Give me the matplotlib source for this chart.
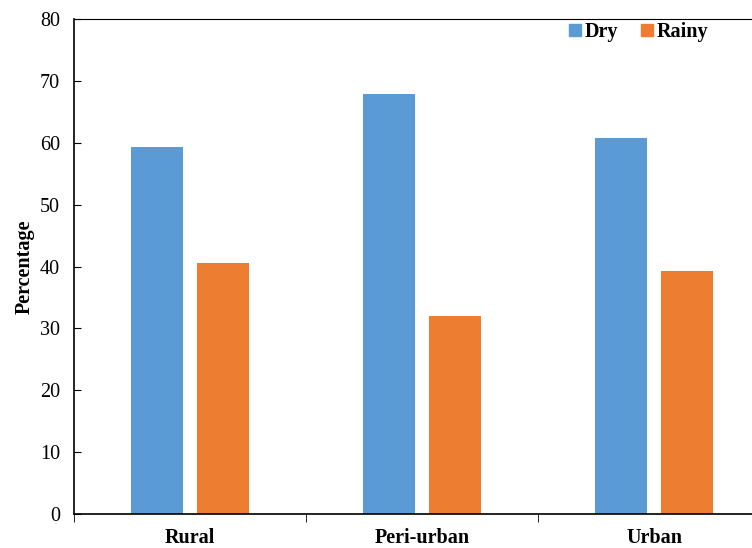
import numpy as np
import matplotlib.pyplot as plt
from matplotlib.patches import Patch

# Данные
categories = ['Rural', 'Peri-urban', 'Urban']
dry = [59.3, 67.9, 60.7]
rainy = [40.6, 32.0, 39.2]

plt.rcParams['font.family'] = ['Liberation Serif', 'DejaVu Serif']

fig = plt.figure(figsize=(7.52, 5.48), dpi=100)
ax = fig.add_axes([74 / 752, 34 / 548, 696 / 752, 495 / 548])

x = np.arange(len(categories)) + 0.5
w = 0.225
ax.bar(x - 0.143, dry, w, color='#5B9BD5', label='Dry')
ax.bar(x + 0.143, rainy, w, color='#ED7D31', label='Rainy')

ax.set_xlim(0, 3)
ax.set_ylim(0, 80)
ax.set_yticks(range(0, 81, 10))
ax.tick_params(axis='y', direction='in', length=5, labelsize=14.5, pad=10)

ax.set_xticks(x)
ax.set_xticklabels(categories, fontsize=14.5, fontweight='bold')
ax.tick_params(axis='x', which='major', length=0, pad=10)
ax.set_xticks([0, 1, 2, 3], minor=True)
ax.tick_params(axis='x', which='minor', direction='out', length=6)

ax.set_ylabel('Percentage', fontsize=14.5, fontweight='bold', labelpad=4)

for s in ['left', 'bottom']:
    ax.spines[s].set_linewidth(1.2)
ax.spines['top'].set_linewidth(0.8)
ax.spines['right'].set_visible(False)

handles = [Patch(color='#5B9BD5', label='Dry'), Patch(color='#ED7D31', label='Rainy')]
ax.legend(handles=handles, loc='upper left', bbox_to_anchor=(569 / 752, 1 - 22 / 548),
          bbox_transform=fig.transFigure, ncol=2, borderaxespad=0, borderpad=0,
          frameon=False, prop={'weight': 'bold', 'size': 14.5},
          handlelength=0.6, handleheight=0.6, handletextpad=0.2, columnspacing=1.1)

fig.savefig('out.png', dpi=100)
